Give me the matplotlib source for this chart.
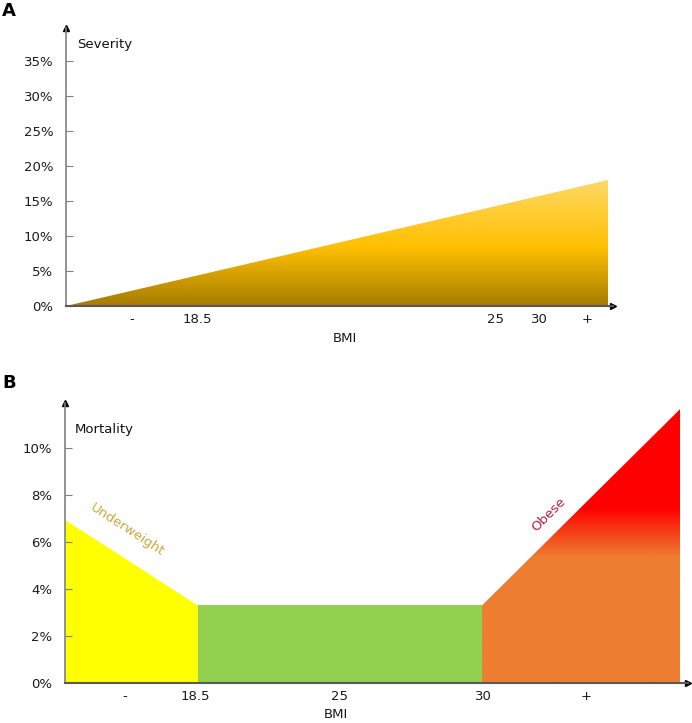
import numpy as np
import matplotlib
matplotlib.use('Agg')
from matplotlib import pyplot as plt
from matplotlib.patches import Polygon
from matplotlib.colors import LinearSegmentedColormap

#%% Data
# Panel A: severity rises linearly with BMI (x in axis units)
sev_x = [0, 542]
sev_y = [0, 18]
a_ticks = [66, 131, 429, 473, 521]
a_ticklabels = ['-', '18.5', '25', '30', '+']
a_yticks = [0, 5, 10, 15, 20, 25, 30, 35]

# Panel B: mortality by BMI segment
under_x = [0, 133]
under_y = [6.95, 3.3]
normal_x = [133, 417]
normal_y = [3.3, 3.3]
obese_x = [417, 615]
obese_y = [3.3, 11.65]
b_ticks = [60, 130, 275, 418, 521]
b_ticklabels = ['-', '18.5', '25', '30', '+']
b_yticks = [0, 2, 4, 6, 8, 10]

plt.rcParams['font.family'] = 'DejaVu Sans'
fs = 9.5

fig = plt.figure(figsize=[6.92, 7.23], dpi=100)
axA = fig.add_axes([66/692, 1-306/723, 547/692, 278/723])
axB = fig.add_axes([65/692, 1-683/723, 623/692, 280/723])


def style_axes(ax, xmax, ymax, yticks, xticks, xticklabels):
    ax.set_xlim(0, xmax)
    ax.set_ylim(0, ymax)
    for s in ['top', 'right']:
        ax.spines[s].set_visible(False)
    ax.spines['left'].set_color('#808080')
    ax.spines['bottom'].set_color('#595959')
    ax.spines['left'].set_linewidth(1.2)
    ax.spines['bottom'].set_linewidth(1.5)
    ax.set_yticks(yticks)
    ax.set_yticklabels([f'{v}%' for v in yticks], fontsize=fs, color='#1a1a1a')
    ax.tick_params(axis='y', direction='in', length=5, color='#808080', pad=9)
    ax.set_xticks(xticks)
    ax.set_xticklabels(xticklabels, fontsize=fs, color='#1a1a1a')
    ax.tick_params(axis='x', length=0, pad=5)
    ax.plot(1, 0, '>', color='black', ms=4, transform=ax.transAxes, clip_on=False)
    ax.plot(0, 1, '^', color='black', ms=4, transform=ax.transAxes, clip_on=False)
    ax.set_facecolor('none')


def gradient_fill(ax, xs, ys, cmap, ybot, ytop):
    poly = Polygon(list(zip(xs, ys)), closed=True, facecolor='none', edgecolor='none')
    ax.add_patch(poly)
    grad = np.linspace(0, 1, 256).reshape(-1, 1)
    im = ax.imshow(grad, cmap=cmap, origin='lower', aspect='auto',
                   extent=[min(xs), max(xs), ybot, ytop], interpolation='bilinear')
    im.set_clip_path(poly)


#%% Panel A
style_axes(axA, 547, 278/7.0, a_yticks, a_ticks, a_ticklabels)
cmapA = LinearSegmentedColormap.from_list(
    'sev', [(0, '#a67c00'), (0.47, '#ffc000'), (1, '#ffd966')])
gradient_fill(axA, [sev_x[0], sev_x[1], sev_x[1]], [sev_y[0], sev_y[1], 0], cmapA, 0, sev_y[1])
axA.text(11, 37.4, 'Severity', fontsize=fs, va='center', ha='left', color='#111111')
fig.text(345/692, 1-339/723, 'BMI', fontsize=fs, ha='center', va='center', color='#1a1a1a')
fig.text(2/692, 1-11/723, 'A', fontsize=13, fontweight='bold', ha='left', va='center')

#%% Panel B
style_axes(axB, 623, 280/23.5, b_yticks, b_ticks, b_ticklabels)
axB.fill_between(under_x, under_y, 0, color='#ffff00', lw=0)
axB.fill_between(normal_x, normal_y, 0, color='#92d050', lw=0)
cmapB = LinearSegmentedColormap.from_list(
    'ob', [(0, '#ed7d31'), (0.46, '#ed7d31'), (0.64, '#ff0000'), (1, '#ff0000')])
gradient_fill(axB, [obese_x[0], obese_x[0], obese_x[1], obese_x[1]],
              [0, obese_y[0], obese_y[1], 0], cmapB, 0, obese_y[1])
axB.text(10, 10.77, 'Mortality', fontsize=fs, va='center', ha='left', color='#111111')
axB.text(62, 6.5, 'Underweight', fontsize=fs, rotation=-33, color='#c8a83c',
         ha='center', va='center', rotation_mode='anchor')
axB.text(484, 7.15, 'Obese', fontsize=fs, rotation=45, color='#c0203a',
         ha='center', va='center', rotation_mode='anchor')
fig.text(336/692, 1-714/723, 'BMI', fontsize=fs, ha='center', va='center', color='#1a1a1a')
fig.text(2/692, 1-383/723, 'B', fontsize=13, fontweight='bold', ha='left', va='center')

plt.savefig('out.png', dpi=100)
